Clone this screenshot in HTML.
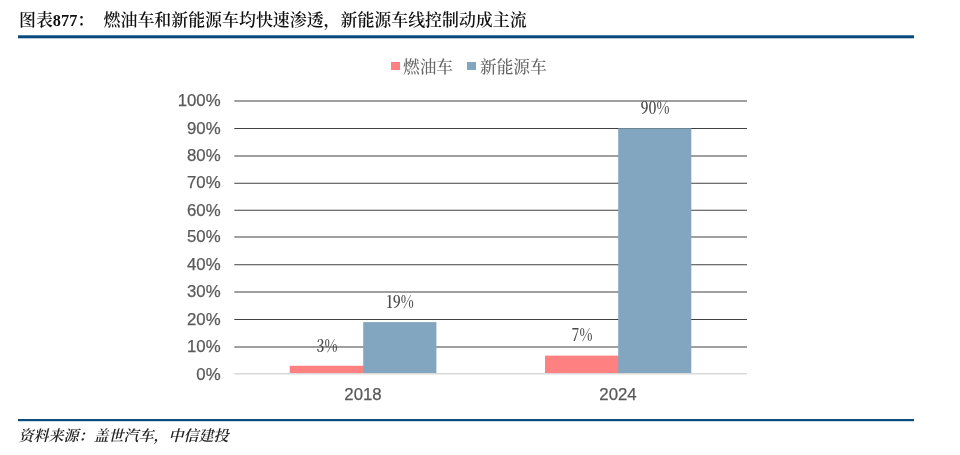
<!DOCTYPE html>
<html lang="zh">
<head>
<meta charset="utf-8">
<title>图表877</title>
<style>
html,body{margin:0;padding:0;background:#fff;}
body{width:960px;height:455px;position:relative;overflow:hidden;font-family:"Liberation Sans","Noto Sans CJK SC",sans-serif;}
.abs{position:absolute;white-space:nowrap;}
.title{top:9.1px;font:600 16.93px/24px "Liberation Serif","Noto Serif CJK SC",serif;color:#111;}
.title b{font-size:16.3px;font-weight:bold;display:inline-block;transform:translateY(0.5px) scale(1,1.04);transform-origin:50% 78%;}
.src{left:18.5px;top:425.2px;font:italic 600 15px/22px "Liberation Serif","Noto Serif CJK SC",serif;color:#222;}
.leg{font:500 16.7px/20px "Liberation Serif","Noto Serif CJK SC",serif;color:#666;top:57.5px;}
.sq{width:9px;height:8.4px;top:62px;}
.yl{font:16.8px/20px "Liberation Sans",sans-serif;color:#595959;width:60px;text-align:right;left:160.6px;-webkit-text-stroke:0.25px #595959;}
.xl{font:16.8px/20px "Liberation Sans",sans-serif;color:#595959;width:80px;text-align:center;-webkit-text-stroke:0.25px #595959;}
.dl{font:600 17px/20px "Noto Serif CJK SC","Liberation Serif",serif;color:#4a4a4a;width:60px;text-align:center;transform:scale(0.81,1.03);transform-origin:50% 50%;}
svg{position:absolute;left:0;top:0;}
</style>
</head>
<body>
<div class="abs title" style="left:19px;">图表<b>877</b>：</div>
<div class="abs title" style="left:103.6px;">燃油车和新能源车均快速渗透，新能源车线控制动成主流</div>


<div class="abs sq" style="left:391px;background:#ff8080;"></div>
<div class="abs leg" style="left:403px;">燃油车</div>
<div class="abs sq" style="left:467.2px;width:8.6px;background:#82a6bf;"></div>
<div class="abs leg" style="left:480px;">新能源车</div>

<svg width="960" height="455" viewBox="0 0 960 455">
<line x1="234.3" x2="747.0" y1="347.00" y2="347.00" stroke="#404040" stroke-width="1.1"/>
<line x1="234.3" x2="747.0" y1="319.45" y2="319.45" stroke="#404040" stroke-width="1.1"/>
<line x1="234.3" x2="747.0" y1="292.00" y2="292.00" stroke="#404040" stroke-width="1.1"/>
<line x1="234.3" x2="747.0" y1="264.80" y2="264.80" stroke="#404040" stroke-width="1.1"/>
<line x1="234.3" x2="747.0" y1="237.05" y2="237.05" stroke="#404040" stroke-width="1.1"/>
<line x1="234.3" x2="747.0" y1="210.30" y2="210.30" stroke="#404040" stroke-width="1.1"/>
<line x1="234.3" x2="747.0" y1="183.25" y2="183.25" stroke="#404040" stroke-width="1.1"/>
<line x1="234.3" x2="747.0" y1="156.00" y2="156.00" stroke="#404040" stroke-width="1.1"/>
<line x1="234.3" x2="747.0" y1="128.45" y2="128.45" stroke="#404040" stroke-width="1.1"/>
<line x1="234.3" x2="747.0" y1="101.00" y2="101.00" stroke="#404040" stroke-width="1.1"/>
<line x1="234.3" x2="747.0" y1="373.8" y2="373.8" stroke="#d9d9d9" stroke-width="1.6"/>
<rect x="289.7" y="365.76" width="74.5" height="7.24" fill="#ff8080"/>
<rect x="363.2" y="322.10" width="73.2" height="50.90" fill="#82a6bf"/>
<rect x="545.0" y="355.61" width="74.2" height="17.39" fill="#ff8080"/>
<rect x="618.2" y="128.34" width="73.1" height="244.66" fill="#82a6bf"/>
<rect x="18" y="35.3" width="896" height="3" fill="#07497f"/>
<rect x="18" y="419.0" width="896" height="2.2" fill="#0b4c80"/>
</svg>

<div class="abs yl" style="top:364.50px;">0%</div>
<div class="abs yl" style="top:337.20px;">10%</div>
<div class="abs yl" style="top:309.65px;">20%</div>
<div class="abs yl" style="top:282.20px;">30%</div>
<div class="abs yl" style="top:255.00px;">40%</div>
<div class="abs yl" style="top:227.25px;">50%</div>
<div class="abs yl" style="top:200.50px;">60%</div>
<div class="abs yl" style="top:173.45px;">70%</div>
<div class="abs yl" style="top:146.20px;">80%</div>
<div class="abs yl" style="top:118.65px;">90%</div>
<div class="abs yl" style="top:91.20px;">100%</div>

<div class="abs dl" style="left:296.8px;top:335.3px;">3%</div>
<div class="abs dl" style="left:370px;top:291.3px;">19%</div>
<div class="abs dl" style="left:552px;top:324.3px;">7%</div>
<div class="abs dl" style="left:625px;top:97.3px;">90%</div>

<div class="abs xl" style="left:323px;top:385px;">2018</div>
<div class="abs xl" style="left:578px;top:385px;">2024</div>


<div class="abs src">资料来源：盖世汽车，中信建投</div>
</body>
</html>
